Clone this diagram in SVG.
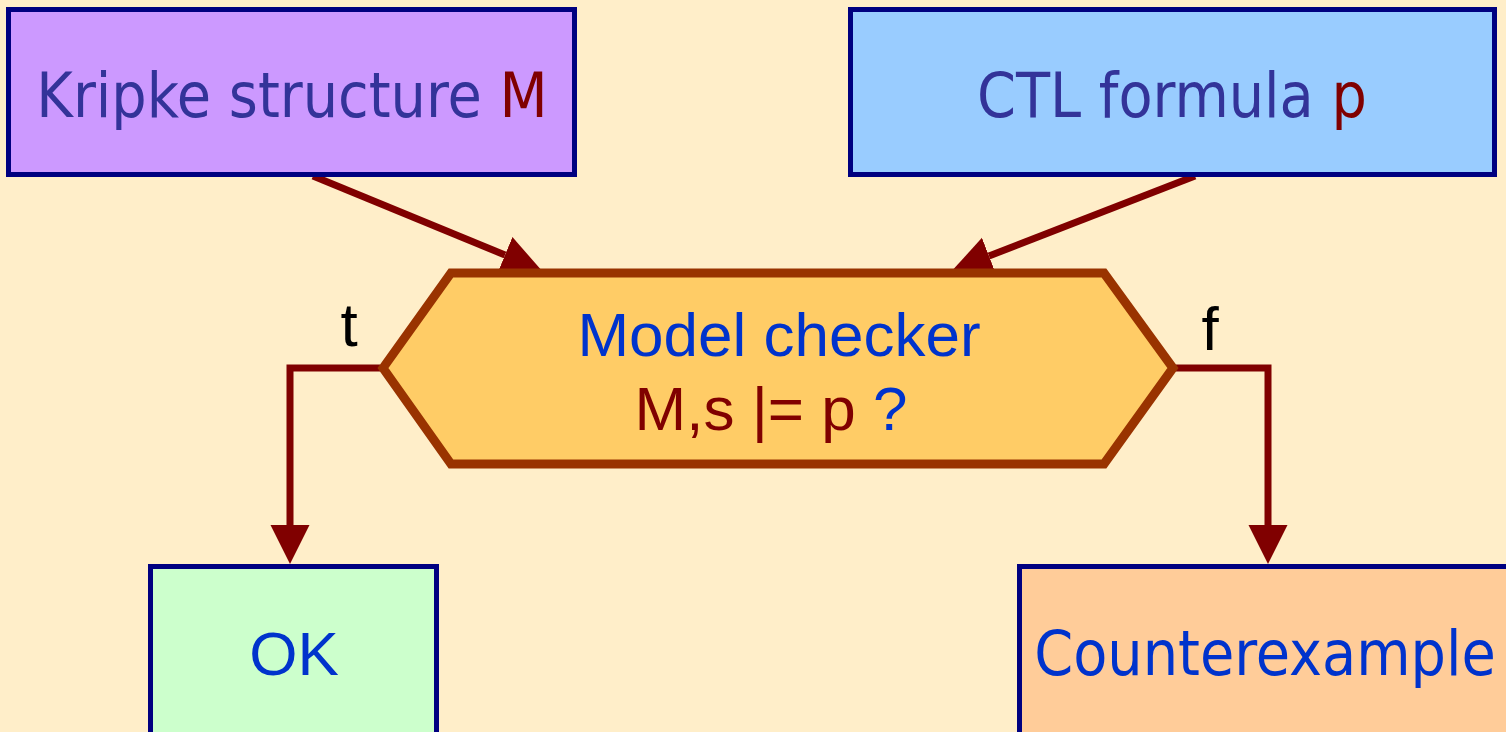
<svg xmlns="http://www.w3.org/2000/svg" width="1506" height="732" viewBox="0 0 1506 732">
<style>
.box{stroke:#000080;stroke-width:5}
.tah{font-family:"DejaVu Sans Condensed","DejaVu Sans",sans-serif;font-size:62px}
.ari{font-family:"Liberation Sans",Arial,sans-serif;font-size:62px}
.conn{fill:none;stroke:#800000;stroke-width:7;stroke-linejoin:miter}
.ind{fill:#333399}
.red{fill:#800000}
.blue{fill:#0033CC}
</style>
<defs>
<marker id="ah" markerUnits="userSpaceOnUse" markerWidth="42" markerHeight="42" viewBox="0 -21 42 42" refX="0" refY="0" orient="auto">
<path d="M0,-19.5 L39,0 L0,19.5 z" fill="#800000"/>
</marker>
</defs>
<rect width="1506" height="732" fill="#FFEEC9"/>
<g id="connectors">
<line class="conn" x1="313" y1="176" x2="505" y2="255" marker-end="url(#ah)"/>
<line class="conn" x1="1195" y1="176" x2="989" y2="256" marker-end="url(#ah)"/>
<polyline class="conn" points="380,368 290,368 290,525" marker-end="url(#ah)"/>
<polyline class="conn" points="1176,368 1268,368 1268,525" marker-end="url(#ah)"/>
<text class="ari" x="349" y="346" text-anchor="middle" fill="#000">t</text>
<text class="ari" x="1210" y="350" text-anchor="middle" fill="#000">f</text>
</g>
<g id="kripke">
<rect class="box" x="8.5" y="9.5" width="566" height="165" fill="#CC99FF"/>
<text class="tah" x="292" y="117" text-anchor="middle"><tspan class="ind">Kripke structure </tspan><tspan class="red">M</tspan></text>
</g>
<g id="ctl">
<rect class="box" x="850.5" y="9.5" width="644" height="165" fill="#99CCFF"/>
<text class="tah" x="1172" y="117" text-anchor="middle"><tspan class="ind">CTL formula </tspan><tspan class="red">p</tspan></text>
</g>
<g id="checker">
<polygon points="383,368 451,273 1104,273 1173,368 1104,464 451,464" fill="#FFCC66" stroke="#993300" stroke-width="9" stroke-linejoin="miter"/>
<text class="ari blue" x="779" y="356" text-anchor="middle">Model checker</text>
<text class="ari" x="771" y="430" text-anchor="middle"><tspan class="red">M,s |= p </tspan><tspan class="blue">?</tspan></text>
</g>
<g id="ok">
<rect class="box" x="150.5" y="566.5" width="286" height="200" fill="#CCFFCC"/>
<text class="ari blue" x="294" y="675" text-anchor="middle">OK</text>
</g>
<g id="counterexample">
<rect class="box" x="1019.5" y="566.5" width="500" height="200" fill="#FFCC99"/>
<text class="tah blue" x="1265" y="675" text-anchor="middle">Counterexample</text>
</g>
</svg>
